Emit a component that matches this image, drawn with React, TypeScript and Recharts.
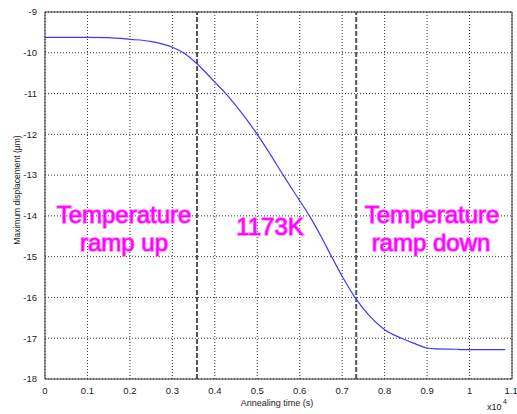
import { LineChart, Line, XAxis, YAxis, CartesianGrid, ReferenceLine } from "recharts";

// annealing time (x10^4 s) and maximum displacement (um)
const timeX = [0, 0.1, 0.15, 0.2, 0.248, 0.3, 0.326, 0.358, 0.4, 0.426, 0.465, 0.5, 0.53, 0.561, 0.59, 0.623, 0.65, 0.675, 0.7, 0.73, 0.766, 0.8, 0.84, 0.868, 0.9, 0.92, 0.97, 0.98, 1.084];
const displacement = [-9.62, -9.62, -9.63, -9.67, -9.72, -9.865, -10.0, -10.27, -10.72, -11.0, -11.5, -12.0, -12.48, -13.0, -13.47, -14.0, -14.5, -15.0, -15.48, -16.0, -16.47, -16.79, -17.0, -17.12, -17.24, -17.26, -17.27, -17.28, -17.28];

const xTicks = [0, 0.1, 0.2, 0.3, 0.4, 0.5, 0.6, 0.7, 0.8, 0.9, 1, 1.1];
const yTicks = [-18, -17, -16, -15, -14, -13, -12, -11, -10, -9];

// ramp boundaries (dashed lines)
const rampUpEnd = 0.358;
const rampDownStart = 0.733;

const FONT = "'Liberation Sans', Arial, sans-serif";
const MAGENTA = "#ff00ff";

export default function App() {
  const data = timeX.map((t, i) => ({ t, d: displacement[i] }));

  const magentaText = {
    fontFamily: FONT,
    fontSize: 24,
    fill: MAGENTA,
    stroke: "#ff77ff",
    strokeWidth: 1.6,
    paintOrder: "stroke" as const,
    textAnchor: "middle" as const,
  };

  return (
    <div style={{ position: "absolute", left: 0, top: 0, width: 517, height: 414, background: "#fff" }}>
      <LineChart
        width={517}
        height={414}
        data={data}
        margin={{ top: 12, right: 5, bottom: 0, left: 0 }}
        style={{ fontFamily: FONT }}
      >
        <CartesianGrid stroke="#333" strokeDasharray="1 2" />
        <XAxis
          dataKey="t"
          type="number"
          domain={[0, 1.1]}
          ticks={xTicks}
          height={35}
          stroke="#333"
          tickLine={false}
          tick={{ fontSize: 9.5, fill: "#222" }}
          allowDataOverflow
        />
        <YAxis
          type="number"
          domain={[-18, -9]}
          ticks={yTicks}
          width={45}
          stroke="#333"
          tickLine={false}
          tick={{ fontSize: 9.5, fill: "#222" }}
          allowDataOverflow
        />
        <ReferenceLine y={-9} stroke="#333" />
        <ReferenceLine x={1.1} stroke="#333" />
        <ReferenceLine x={rampUpEnd} stroke="#555" strokeWidth={2} strokeDasharray="5 2" />
        <ReferenceLine x={rampDownStart} stroke="#555" strokeWidth={2} strokeDasharray="5 2" />
        <Line
          dataKey="d"
          type="monotone"
          stroke="#3a3aff"
          strokeWidth={1.2}
          dot={false}
          isAnimationActive={false}
        />
      </LineChart>

      <svg
        width={517}
        height={414}
        style={{ position: "absolute", left: 0, top: 0, pointerEvents: "none" }}
      >
        <text
          transform="translate(20,190) rotate(-90)"
          textAnchor="middle"
          fontFamily={FONT}
          fontSize={8.5}
          fill="#222"
        >
          Maximum displacement (μm)
        </text>
        <text x={277} y={406} textAnchor="middle" fontFamily={FONT} fontSize={9} fill="#222">
          Annealing time (s)
        </text>
        <text x={487} y={410} fontFamily={FONT} fontSize={9} fill="#222">
          x10
        </text>
        <text x={503} y={404} fontFamily={FONT} fontSize={7} fill="#222">
          4
        </text>

        <text x={124} y={223} {...magentaText}>Temperature</text>
        <text x={124} y={251} {...magentaText}>ramp up</text>
        <text x={270} y={235} {...magentaText}>1173K</text>
        <text x={432} y={223} {...magentaText}>Temperature</text>
        <text x={431} y={251} {...magentaText}>ramp down</text>
      </svg>
    </div>
  );
}
